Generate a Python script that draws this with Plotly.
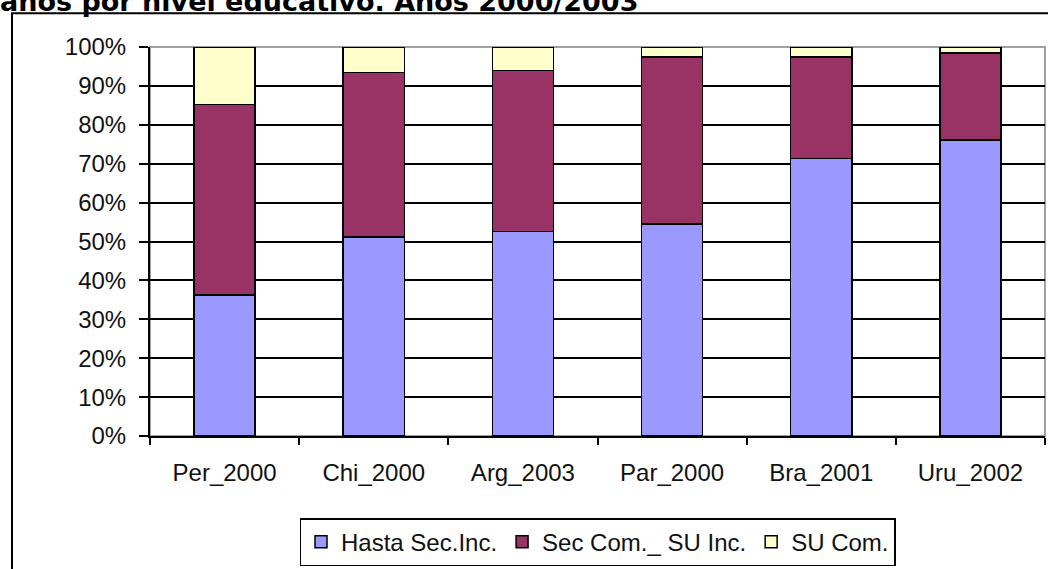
import plotly.graph_objects as go

categories = ["Per_2000", "Chi_2000", "Arg_2003", "Par_2000", "Bra_2001", "Uru_2002"]
hasta_sec_inc = [36.3, 51.1, 52.6, 54.5, 71.4, 76.1]
sec_com_su_inc = [48.9, 42.4, 41.3, 42.9, 26.0, 22.3]
su_com = [14.8, 6.5, 6.1, 2.6, 2.6, 1.5]
series_names = ["Hasta Sec.Inc.", "Sec Com._ SU Inc.", "SU Com."]
series_colors = ["#9999FF", "#993366", "#FFFFCC"]
y_tick_vals = [0, 10, 20, 30, 40, 50, 60, 70, 80, 90, 100]
title_text = "años por nivel educativo. Años 2000/2003"

W, H = 1048, 569
L, R, T, B = 150, 3, 47, 129
PW, PH = W - L - R, H - T - B


def px_x(p):
    return (p - L) / PW


def px_y(p):
    return (H - B - p) / PH


fig = go.Figure()
for name, vals, col in zip(series_names, [hasta_sec_inc, sec_com_su_inc, su_com], series_colors):
    fig.add_trace(go.Bar(
        x=categories, y=vals, name=name,
        marker=dict(color=col, line=dict(color="black", width=1.5)),
    ))

axis_font = dict(family="Liberation Sans, Arial, sans-serif", size=24, color="#111111")

fig.update_layout(
    width=W, height=H,
    margin=dict(l=L, r=R, t=T, b=B, pad=0),
    barmode="stack",
    bargap=0.59,
    paper_bgcolor="white",
    plot_bgcolor="white",
    showlegend=True,
    legend=dict(
        orientation="h",
        x=0.5, xanchor="center",
        y=px_y(523), yanchor="top",
        bordercolor="black", borderwidth=1.5,
        font=axis_font,
        traceorder="normal",
        itemclick=False,
    ),
    xaxis=dict(
        showline=True, linecolor="black", linewidth=2,
        ticks="outside", tickson="boundaries", ticklen=7, tickcolor="black", tickwidth=1.5,
        tickfont=axis_font, showgrid=False,
        ticklabelstandoff=14,
    ),
    yaxis=dict(
        range=[0, 100],
        tickvals=y_tick_vals,
        ticktext=[f"{v}%" for v in y_tick_vals],
        showline=True, linecolor="black", linewidth=2,
        ticks="outside", ticklen=9, tickcolor="black", tickwidth=1.5,
        tickfont=axis_font,
        showgrid=True, gridcolor="black", gridwidth=1.5,
        zeroline=False,
        ticklabelstandoff=8,
    ),
    shapes=[
        # plot-area frame (grey, top/right)
        dict(type="rect", xref="paper", yref="paper", x0=0, x1=1, y0=0, y1=1,
             line=dict(color="#A0A0A0", width=2), layer="between"),
        # outer chart border
        dict(type="rect", xref="paper", yref="paper",
             x0=px_x(12), x1=px_x(1075), y0=px_y(600), y1=px_y(13),
             line=dict(color="black", width=2), fillcolor="rgba(0,0,0,0)", layer="above"),
    ],
    annotations=[
        dict(text=f"<b>{title_text}</b>", xref="paper", yref="paper",
             x=px_x(-2), xanchor="left", y=px_y(19), yanchor="bottom",
             showarrow=False,
             font=dict(family="DejaVu Sans, Verdana, sans-serif", size=27, color="black")),
    ],
)

fig.write_html(
    "out.html",
    config={"displayModeBar": False},
    post_script="document.body.style.margin='0';document.body.style.overflow='hidden';",
)
